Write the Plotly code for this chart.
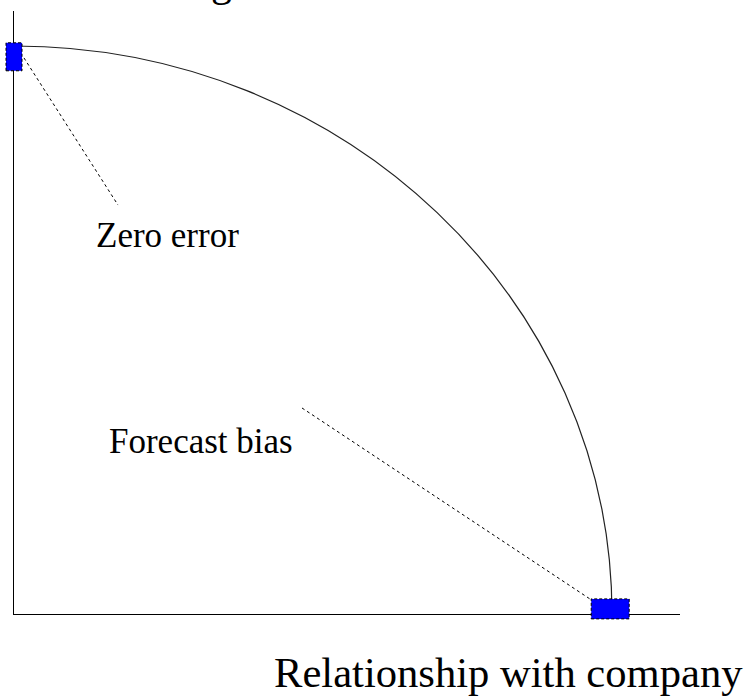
import plotly.graph_objects as go

# --- data (units: arc radius = 1 on each axis) ---
point_names = ["Zero error", "Forecast bias"]
point_x = [0.0, 0.997]
point_y = [0.981, 0.009]
label_x = [0.2575, 0.312]
label_y = [0.646, 0.2835]
leader_start_x = [0.0167, 0.4816]
leader_start_y = [0.979, 0.3627]
leader_end_x = [0.1739, 0.9632]
leader_end_y = [0.720, 0.0264]
arc_rx = 1.0
arc_ry = 1.0
x_title = "Relationship with company"
y_title = "Forecasting"

# --- layout geometry ---
W, H = 749, 697
ml, mr, mt, mb = 14, 69, 11, 83
pw, ph = W - ml - mr, H - mt - mb
px_per_x = 598.0
px_per_y = 568.0
x_range = [0, pw / px_per_x]
y_range = [0, ph / px_per_y]

# marker sizes in pixels (style)
rect_w_px = [16, 38]
rect_h_px = [28, 20]

FONT = "Liberation Serif, Times New Roman, serif"


def to_paper_x(v):
    return (v - x_range[0]) / (x_range[1] - x_range[0])


def to_paper_y(v):
    return (v - y_range[0]) / (y_range[1] - y_range[0])


fig = go.Figure()
fig.add_trace(go.Scatter(x=[None], y=[None], mode="markers", showlegend=False, hoverinfo="skip"))

shapes = []
# arc (quarter ellipse, cubic Bezier approximation)
k = 0.5523
path = (f"M 0,{arc_ry} C {k*arc_rx},{arc_ry} {arc_rx},{k*arc_ry} {arc_rx},0")
shapes.append(dict(type="path", xref="x", yref="y", path=path,
                   line=dict(color="#222222", width=1.2)))
# leader lines
for i in range(len(point_names)):
    shapes.append(dict(type="line", xref="x", yref="y",
                       x0=leader_start_x[i], y0=leader_start_y[i],
                       x1=leader_end_x[i], y1=leader_end_y[i],
                       line=dict(color="black", width=1, dash="3px,3px")))
# blue rectangles (paper refs so they are not clipped at the axes)
for i in range(len(point_names)):
    hw = rect_w_px[i] / 2 / px_per_x
    hh = rect_h_px[i] / 2 / px_per_y
    shapes.append(dict(type="rect", xref="paper", yref="paper",
                       x0=to_paper_x(point_x[i] - hw), x1=to_paper_x(point_x[i] + hw),
                       y0=to_paper_y(point_y[i] - hh), y1=to_paper_y(point_y[i] + hh),
                       fillcolor="#0000FF",
                       line=dict(color="black", width=1, dash="3px,2px"),
                       layer="above"))

annotations = []
for i in range(len(point_names)):
    annotations.append(dict(x=label_x[i], y=label_y[i], xref="x", yref="y",
                            text=point_names[i], showarrow=False,
                            xanchor="center", yanchor="bottom", yshift=-10,
                            font=dict(family=FONT, size=35, color="black")))
annotations.append(dict(x=(745 - ml) / pw, y=-(687 - (mt + ph)) / ph,
                        xref="paper", yref="paper", text=x_title, showarrow=False,
                        xanchor="right", yanchor="bottom", yshift=-11,
                        font=dict(family=FONT, size=42.6, color="black")))
annotations.append(dict(x=(234 - ml) / pw, y=1 + (mt + 4) / ph,
                        xref="paper", yref="paper", text=y_title, showarrow=False,
                        xanchor="right", yanchor="bottom", yshift=-11,
                        font=dict(family=FONT, size=42, color="black")))

fig.update_layout(
    width=W, height=H,
    margin=dict(l=ml, r=mr, t=mt, b=mb, pad=0),
    paper_bgcolor="white", plot_bgcolor="white",
    shapes=shapes, annotations=annotations,
    showlegend=False,
    xaxis=dict(range=x_range, showgrid=False, zeroline=False, showticklabels=False,
               ticks="", showline=True, linecolor="black", linewidth=1.3, fixedrange=True),
    yaxis=dict(range=y_range, showgrid=False, zeroline=False, showticklabels=False,
               ticks="", showline=True, linecolor="black", linewidth=1.3, fixedrange=True),
)

fig.write_html("out.html", config={"displayModeBar": False},
               post_script="document.body.style.margin='0';document.body.style.overflow='hidden';")
